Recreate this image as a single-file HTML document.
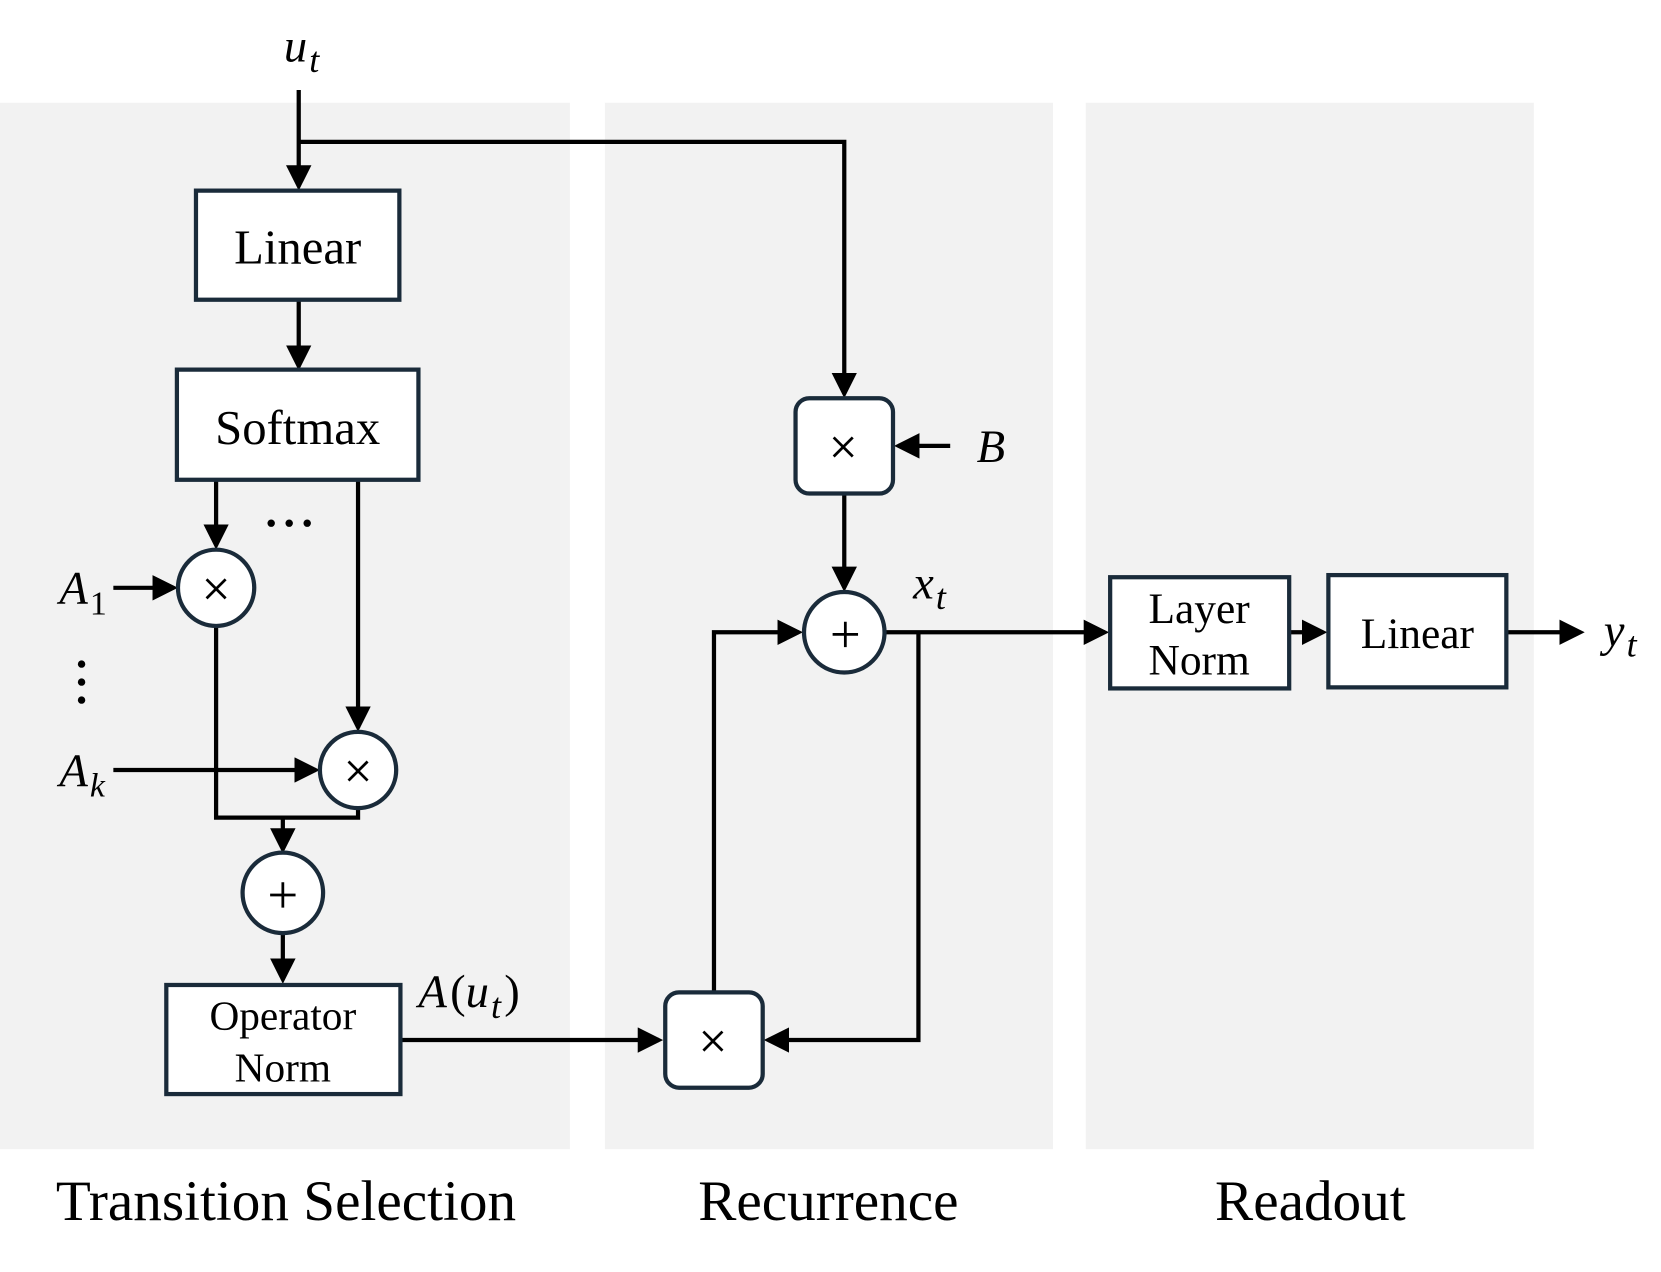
<!DOCTYPE html>
<html><head><style>
html,body{margin:0;padding:0;background:#fff;}
svg{display:block;}
text{font-family:"Liberation Serif",serif;fill:#000;}
.it{font-style:italic;}
</style></head><body>
<svg width="1661" height="1272" viewBox="0 0 1568 1201" preserveAspectRatio="none" xmlns="http://www.w3.org/2000/svg">
<defs>
<marker id="a" markerWidth="6" markerHeight="6" refX="5" refY="3" orient="auto" markerUnits="strokeWidth">
<path d="M0,0 L6,3 L0,6 z" fill="#000"/></marker>
</defs>
<rect x="0" y="97" width="538" height="988" fill="#f2f2f2"/>
<rect x="571" y="97" width="423" height="988" fill="#f2f2f2"/>
<rect x="1025" y="97" width="423" height="988" fill="#f2f2f2"/>
<g stroke="#000" stroke-width="4" fill="none">
<path d="M282,85 V176" marker-end="url(#a)"/>
<path d="M282,134 H797 V372" marker-end="url(#a)"/>
<path d="M282,283 V346" marker-end="url(#a)"/>
<path d="M204,453 V515" marker-end="url(#a)"/>
<path d="M338,453 V687" marker-end="url(#a)"/>
<path d="M107,555 H164" marker-end="url(#a)"/>
<path d="M107,727 H298" marker-end="url(#a)"/>
<path d="M204,591 V772 H338 V763"/>
<path d="M267,772 V802" marker-end="url(#a)"/>
<path d="M267,881 V925" marker-end="url(#a)"/>
<path d="M378,982 H622" marker-end="url(#a)"/>
<path d="M674,937 V597 H754" marker-end="url(#a)"/>
<path d="M897,421 H848" marker-end="url(#a)"/>
<path d="M797,466 V555" marker-end="url(#a)"/>
<path d="M835,597 H1043" marker-end="url(#a)"/>
<path d="M867,597 V982 H725" marker-end="url(#a)"/>
<path d="M1217,597 H1249" marker-end="url(#a)"/>
<path d="M1422,597 H1492" marker-end="url(#a)"/>
</g>
<g stroke="#1a2b3a" stroke-width="4" fill="#fff">
<rect x="185" y="180" width="192" height="103"/>
<rect x="167" y="349" width="228" height="104"/>
<rect x="157" y="930" width="221" height="103"/>
<rect x="1048" y="545" width="169" height="105"/>
<rect x="1254" y="543" width="168" height="106"/>
<rect x="751" y="376" width="92" height="90" rx="13"/>
<rect x="628" y="937" width="92" height="90" rx="13"/>
<circle cx="204" cy="555" r="36"/>
<circle cx="338" cy="727" r="36"/>
<circle cx="267" cy="843" r="38"/>
<circle cx="797" cy="597" r="38"/>
</g>
<g stroke="#000" stroke-width="2.6" fill="none">
<path d="M195,547 l18,18 M213,547 l-18,18"/>
<path d="M329,719 l18,18 M347,719 l-18,18"/>
<path d="M787,413 l18,18 M805,413 l-18,18"/>
<path d="M664,974 l18,18 M682,974 l-18,18"/>
<path d="M255,845 h24 M267,833 v24"/>
<path d="M786,599 h24 M798,587 v24"/>
</g>
<g font-size="46" text-anchor="middle">
<text x="281" y="249">Linear</text>
<text x="281" y="419">Softmax</text>
<text x="1338" y="612" font-size="41">Linear</text>
<text x="1132" y="588" font-size="41">Layer</text>
<text x="1132" y="637" font-size="41">Norm</text>
<text x="267" y="972" font-size="39">Operator</text>
<text x="267" y="1021" font-size="39">Norm</text>
</g>
<g fill="#000"><circle cx="256" cy="494" r="3.5"/><circle cx="273" cy="494" r="3.5"/><circle cx="290" cy="494" r="3.5"/>
<circle cx="77" cy="627" r="3.5"/><circle cx="77" cy="644" r="3.5"/><circle cx="77" cy="661" r="3.5"/></g>
<g font-size="44" class="it">
<text x="268" y="58" class="it">u<tspan font-size="34" dx="2" dy="10">t</tspan></text>
<text x="56" y="570" class="it">A<tspan font-size="32" dx="2" dy="10" font-style="normal">1</tspan></text>
<text x="56" y="742" class="it">A<tspan font-size="32" dx="2" dy="10">k</tspan></text>
<text x="922" y="436" class="it">B</text>
<text x="862" y="565" class="it">x<tspan font-size="34" dx="2" dy="10">t</tspan></text>
<text x="1514" y="610" class="it">y<tspan font-size="34" dx="2" dy="10">t</tspan></text>
<text x="395" y="951" class="it">A<tspan font-style="normal" dx="3">(</tspan>u<tspan font-size="34" dx="2" dy="10">t</tspan><tspan dy="-10" dx="3" font-style="normal">)</tspan></text>
</g>
<g font-size="54" text-anchor="middle">
<text x="270" y="1152">Transition Selection</text>
<text x="782" y="1152">Recurrence</text>
<text x="1237" y="1152">Readout</text>
</g>
</svg>
</body></html>
